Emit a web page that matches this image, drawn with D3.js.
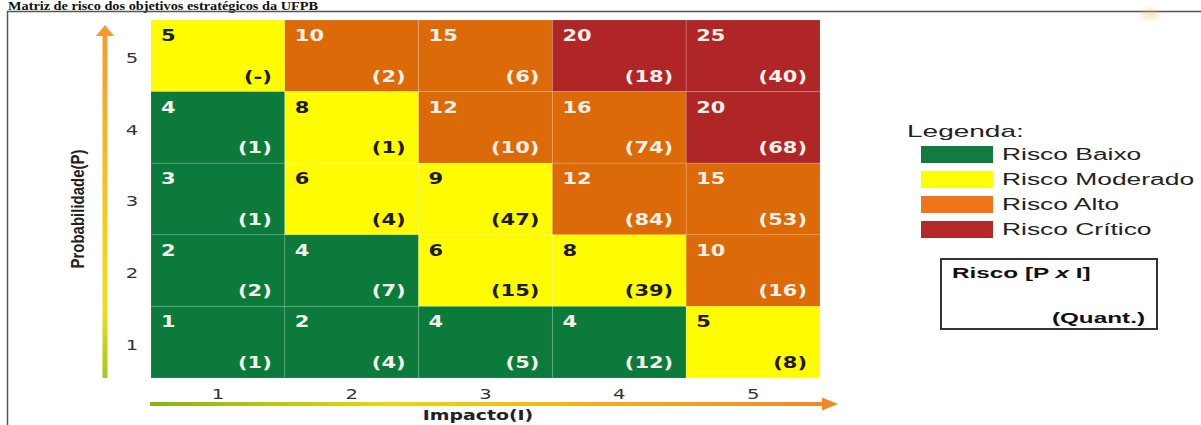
<!DOCTYPE html>
<html>
<head>
<meta charset="utf-8">
<script src="https://cdn.jsdelivr.net/npm/d3@7"></script>
<style>
  html, body { margin: 0; padding: 0; background: #ffffff; }
  svg { display: block; }
</style>
</head>
<body>
<svg id="chart" width="1201" height="425"></svg>
<script>
// ---- Data -------------------------------------------------------------
const titleText = "Matriz de risco dos objetivos estratégicos da UFPB";
const impacts = [1, 2, 3, 4, 5];            // Impacto (I), columns
const probabilities = [5, 4, 3, 2, 1];      // Probabilidade (P), rows top to bottom

// Risk score shown in each cell (rows follow `probabilities`)
const scoreLabels = [
  [5, 10, 15, 20, 25],
  [4, 8, 12, 16, 20],
  [3, 6, 9, 12, 15],
  [2, 4, 6, 8, 10],
  [1, 2, 4, 4, 5]
];

// Number of risks in each cell (null = none)
const riskCounts = [
  [null, 2, 6, 18, 40],
  [1, 1, 10, 74, 68],
  [1, 4, 47, 84, 53],
  [2, 7, 15, 39, 16],
  [1, 4, 5, 12, 8]
];

// Risk level of each cell
const riskLevels = [
  ["Moderado", "Alto", "Alto", "Crítico", "Crítico"],
  ["Baixo", "Moderado", "Alto", "Alto", "Crítico"],
  ["Baixo", "Moderado", "Moderado", "Alto", "Alto"],
  ["Baixo", "Baixo", "Moderado", "Moderado", "Alto"],
  ["Baixo", "Baixo", "Baixo", "Baixo", "Moderado"]
];

const levelNames = ["Baixo", "Moderado", "Alto", "Crítico"];
const legendLabels = ["Risco Baixo", "Risco Moderado", "Risco Alto", "Risco Crítico"];

// ---- Setup ------------------------------------------------------------
const svg = d3.select("#chart");
const defs = svg.append("defs");

const cellColor = d3.scaleOrdinal()
  .domain(levelNames)
  .range(["#0B7A3B", "#FFFB00", "#DD6A08", "#B02626"]);
const legendColor = d3.scaleOrdinal()
  .domain(levelNames)
  .range(["#137B3F", "#FFFC0A", "#F0751A", "#B42A2A"]);

const x = d3.scaleBand().domain(impacts).range([151, 820]);
const y = d3.scaleBand().domain(probabilities).range([20, 378]);

const SX = 1.4;          // horizontal glyph stretch used across the figure
const boldFont = "DejaVu Sans, Verdana, sans-serif";
const sansFont = "Liberation Sans, Arial, sans-serif";

// Gradients for the axis arrows
const gP = defs.append("linearGradient").attr("id", "gradP")
  .attr("gradientUnits", "userSpaceOnUse")
  .attr("x1", 0).attr("y1", 25).attr("x2", 0).attr("y2", 378);
[[0, "#F29A30"], [0.45, "#F6C21E"], [0.8, "#EEE01A"], [1, "#A6C51C"]]
  .forEach(([o, c]) => gP.append("stop").attr("offset", o).attr("stop-color", c));

const gI = defs.append("linearGradient").attr("id", "gradI")
  .attr("gradientUnits", "userSpaceOnUse")
  .attr("x1", 150).attr("y1", 0).attr("x2", 838).attr("y2", 0);
[[0, "#86B414"], [0.35, "#E8D80E"], [0.6, "#F6B418"], [1, "#F0872A"]]
  .forEach(([o, c]) => gI.append("stop").attr("offset", o).attr("stop-color", c));

defs.append("filter").attr("id", "soft")
  .attr("x", "-50%").attr("y", "-50%").attr("width", "200%").attr("height", "200%")
  .append("feGaussianBlur").attr("stdDeviation", 3);

// ---- Title & frame ----------------------------------------------------
svg.append("text")
  .attr("transform", "translate(8,10) scale(1.1,1)")
  .attr("font-family", "Liberation Serif, Times New Roman, serif")
  .attr("font-weight", "bold")
  .attr("font-size", 13)
  .attr("fill", "#111")
  .text(titleText);

svg.append("path")
  .attr("d", "M7.5,425 V11.5 H1201")
  .attr("fill", "none")
  .attr("stroke", "#555")
  .attr("stroke-width", 1.5);

svg.append("ellipse")
  .attr("cx", 1150).attr("cy", 14).attr("rx", 10).attr("ry", 4)
  .attr("fill", "#F4B860").attr("opacity", 0.45)
  .attr("filter", "url(#soft)");

// ---- Matrix cells -----------------------------------------------------
const cells = [];
probabilities.forEach((p, i) => {
  impacts.forEach((imp, j) => {
    cells.push({
      p, imp,
      score: scoreLabels[i][j],
      count: riskCounts[i][j],
      level: riskLevels[i][j]
    });
  });
});

const cellG = svg.append("g").selectAll("g")
  .data(cells)
  .join("g");

cellG.append("rect")
  .attr("x", d => x(d.imp))
  .attr("y", d => y(d.p))
  .attr("width", x.bandwidth())
  .attr("height", y.bandwidth())
  .attr("fill", d => cellColor(d.level))
  .attr("stroke", "rgba(255,255,255,0.13)")
  .attr("stroke-width", 1);

const textFill = d => d.level === "Moderado" ? "#1b1b1b" : "#F3F0E8";

cellG.append("text")
  .attr("transform", d => `translate(${x(d.imp) + 10},${y(d.p) + 21}) scale(${SX},1)`)
  .attr("font-family", boldFont)
  .attr("font-weight", "bold")
  .attr("font-size", 15)
  .attr("fill", textFill)
  .text(d => d.score);

cellG.append("text")
  .attr("transform", d => `translate(${x(d.imp) + x.bandwidth() - 13},${y(d.p) + y.bandwidth() - 10}) scale(${SX},1)`)
  .attr("text-anchor", "end")
  .attr("font-family", boldFont)
  .attr("font-weight", "bold")
  .attr("font-size", 15)
  .attr("fill", textFill)
  .text(d => d.count == null ? "(-)" : `(${d.count})`);

// ---- Axes -------------------------------------------------------------
const yAxisG = svg.append("g")
  .attr("transform", "translate(132,0)")
  .call(d3.axisLeft(y).tickSize(0).tickPadding(0));
yAxisG.select(".domain").remove();
yAxisG.selectAll("text")
  .attr("x", 0).attr("y", 3)
  .attr("text-anchor", "middle")
  .attr("transform", `scale(${SX},1)`)
  .attr("font-family", boldFont)
  .attr("font-size", 14)
  .attr("fill", "#333");

const xAxisG = svg.append("g")
  .attr("transform", "translate(0,389)")
  .call(d3.axisBottom(x).tickSize(0).tickPadding(0));
xAxisG.select(".domain").remove();
xAxisG.selectAll(".tick text")
  .attr("x", 0).attr("y", 0)
  .attr("transform", `scale(${SX},1)`)
  .attr("font-family", boldFont)
  .attr("font-size", 14)
  .attr("fill", "#333");

// Arrow along the probability axis (bottom to top)
svg.append("line")
  .attr("x1", 105).attr("y1", 378).attr("x2", 105).attr("y2", 34)
  .attr("stroke", "#FBE9A0").attr("stroke-width", 14).attr("opacity", 0.35)
  .attr("filter", "url(#soft)");
svg.append("rect")
  .attr("x", 102.5).attr("y", 34).attr("width", 5).attr("height", 344)
  .attr("fill", "url(#gradP)");
svg.append("path")
  .attr("d", "M105,25 L114,36 L96,36 Z")
  .attr("fill", "#F29A30");

// Arrow along the impact axis (left to right)
svg.append("line")
  .attr("x1", 150).attr("y1", 404).attr("x2", 824).attr("y2", 404)
  .attr("stroke", "#FBEFB0").attr("stroke-width", 12).attr("opacity", 0.35)
  .attr("filter", "url(#soft)");
svg.append("rect")
  .attr("x", 150).attr("y", 402).attr("width", 674).attr("height", 4)
  .attr("fill", "url(#gradI)");
svg.append("path")
  .attr("d", "M838,404 L822,397.5 L822,410.5 Z")
  .attr("fill", "#F0872A");

// Axis titles
svg.append("text")
  .attr("transform", "translate(478,420) scale(1.35,1)")
  .attr("text-anchor", "middle")
  .attr("font-family", boldFont)
  .attr("font-weight", "bold")
  .attr("font-size", 14)
  .attr("fill", "#222")
  .text("Impacto(I)");

svg.append("text")
  .attr("transform", "translate(78,209) scale(1.2,1) rotate(-90)")
  .attr("text-anchor", "middle")
  .attr("dy", "0.35em")
  .attr("font-family", sansFont)
  .attr("font-weight", "bold")
  .attr("font-size", 15)
  .attr("fill", "#222")
  .text("Probabilidade(P)");

// ---- Legend -----------------------------------------------------------
const LS = 1.65;
svg.append("text")
  .attr("transform", `translate(907,137) scale(1.75,1)`)
  .attr("font-family", sansFont)
  .attr("font-size", 16)
  .attr("fill", "#222")
  .text("Legenda:");

const leg = svg.append("g").selectAll("g")
  .data(levelNames.map((lv, i) => ({ lv, label: legendLabels[i], i })))
  .join("g");
leg.append("rect")
  .attr("x", 921).attr("y", d => 146 + d.i * 25)
  .attr("width", 72).attr("height", 17)
  .attr("fill", d => legendColor(d.lv));
leg.append("text")
  .attr("transform", d => `translate(1002,${160 + d.i * 25}) scale(${LS},1)`)
  .attr("font-family", sansFont)
  .attr("font-size", 16)
  .attr("fill", "#222")
  .text(d => d.label);

// Key box explaining the cell contents
svg.append("rect")
  .attr("x", 941).attr("y", 259).attr("width", 216).attr("height", 70)
  .attr("fill", "none").attr("stroke", "#333").attr("stroke-width", 2);

const keyTitle = svg.append("text")
  .attr("transform", `translate(952,278) scale(1.62,1)`)
  .attr("font-family", sansFont)
  .attr("font-weight", "bold")
  .attr("font-size", 15)
  .attr("fill", "#111");
keyTitle.append("tspan").text("Risco [P ");
keyTitle.append("tspan").attr("font-style", "italic").text("x");
keyTitle.append("tspan").text(" I]");

svg.append("text")
  .attr("transform", `translate(1145,323) scale(1.62,1)`)
  .attr("text-anchor", "end")
  .attr("font-family", sansFont)
  .attr("font-weight", "bold")
  .attr("font-size", 15)
  .attr("fill", "#111")
  .text("(Quant.)");
</script>
</body>
</html>
